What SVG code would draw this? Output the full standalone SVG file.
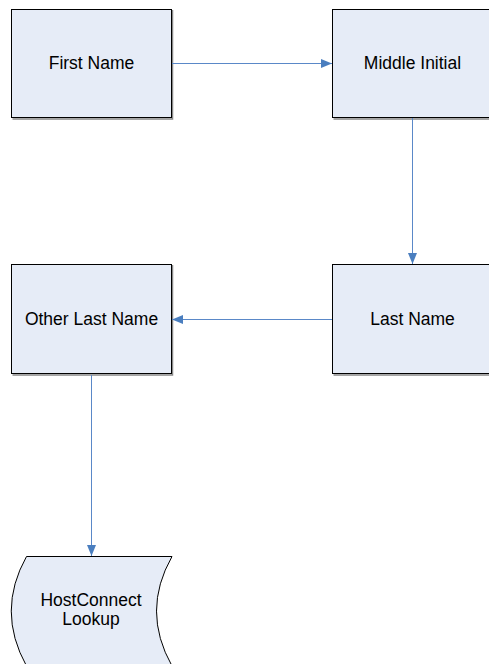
<svg xmlns="http://www.w3.org/2000/svg" width="489" height="664" viewBox="0 0 489 664">
<style>
.box{fill:#E6ECF7;stroke:#000;stroke-width:1}
.sh{fill:none;stroke:#888;stroke-width:1.5}
.lbl{font-family:"Liberation Sans",Arial,sans-serif;font-size:17.5px;fill:#000;text-anchor:middle}
.con{stroke:#5A88C8;stroke-width:1;fill:none}
</style>
<defs>
<marker id="ah" markerWidth="11" markerHeight="9" refX="11" refY="4.5" orient="auto" markerUnits="userSpaceOnUse">
<path d="M0,0 L11,4.5 L0,9 Z" fill="#4A7EBF"/>
</marker>
</defs>
<rect width="489" height="664" fill="#fff"/>
<g id="first-name">
<path class="sh" d="M12.5,119 H172.5 V10"/>
<rect class="box" x="11.5" y="9.5" width="160" height="108"/>
<text class="lbl" x="91.5" y="69">First Name</text>
</g>
<g id="middle-initial">
<path class="sh" d="M333.5,119 H493.5 V10"/>
<rect class="box" x="332.5" y="9.5" width="160" height="108"/>
<text class="lbl" x="412.5" y="69">Middle Initial</text>
</g>
<g id="last-name">
<path class="sh" d="M333.5,375 H493.5 V265"/>
<rect class="box" x="332.5" y="264.5" width="160" height="109"/>
<text class="lbl" x="412.5" y="325">Last Name</text>
</g>
<g id="other-last-name">
<path class="sh" d="M12.5,375 H172.5 V265"/>
<rect class="box" x="11.5" y="264.5" width="160" height="109"/>
<text class="lbl" x="91.5" y="325">Other Last Name</text>
</g>
<g id="hostconnect-lookup">
<path class="box" d="M26.5,556.5 H172 Q141,611 172,666 H26.5 Q-4,611 26.5,556.5 Z"/>
<text class="lbl" x="91" y="606">HostConnect</text>
<text class="lbl" x="91" y="625">Lookup</text>
</g>
<g id="connectors">
<line class="con" x1="172" y1="63.5" x2="332" y2="63.5" marker-end="url(#ah)"/>
<line class="con" x1="412.5" y1="118" x2="412.5" y2="264" marker-end="url(#ah)"/>
<line class="con" x1="332" y1="319.5" x2="172" y2="319.5" marker-end="url(#ah)"/>
<line class="con" x1="91.5" y1="375" x2="91.5" y2="556" marker-end="url(#ah)"/>
</g>
</svg>
